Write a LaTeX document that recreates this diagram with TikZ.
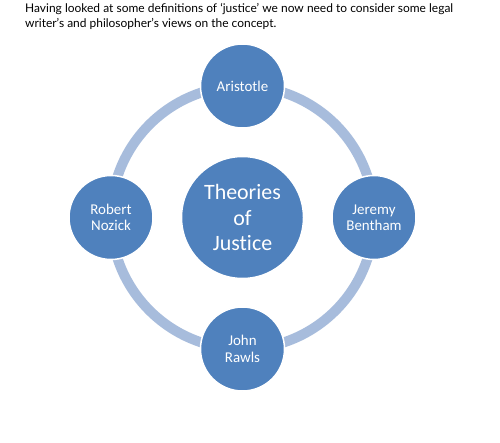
\documentclass[tikz,border=0pt]{standalone}
\usepackage{fontspec}
\setmainfont[Ligatures={TeX,NoCommon}]{Carlito}
\newfontfamily\bodyfont[Ligatures=TeX]{Lato}
\definecolor{nodeblue}{HTML}{4F81BD}
\definecolor{ringblue}{HTML}{A7BCDC}
\begin{document}
\begin{tikzpicture}[x=1bp,y=-1bp,
  bubble/.style={circle, fill=nodeblue, draw=white, line width=1.5bp, text=white,
    align=center, inner sep=0pt, minimum size=84bp, font=\fontsize{15}{16.5}\selectfont},
  bigbubble/.style={bubble, minimum size=122bp, font=\fontsize{22}{26}\selectfont},
  ring/.style={draw=ringblue, line width=10bp}]
\useasboundingbox[fill=white] (0,0) rectangle (500,443);
\node[anchor=north west, inner sep=0pt, text width=428bp, align=justify,
  font=\bodyfont\fontsize{12}{14.5}\selectfont] (intro) at (25,3.5)
  {Having looked at some definitions of ‘justice’ we now need to consider some legal\linebreak writer’s and philosopher’s views on the concept.};
\coordinate (c) at (242.5,217.5);
\draw[ring] (c) circle[radius=131.5];
\node[bigbubble] (theories) at (c) {Theories\\of\\Justice};
\node[bubble] (aristotle) at (242.5,86) {Aristotle};
\node[bubble] (bentham) at (374,217.5) {Jeremy\\Bentham};
\node[bubble] (rawls) at (242.5,349) {John\\Rawls};
\node[bubble] (nozick) at (111,217.5) {Robert\\Nozick};
\end{tikzpicture}
\end{document}
